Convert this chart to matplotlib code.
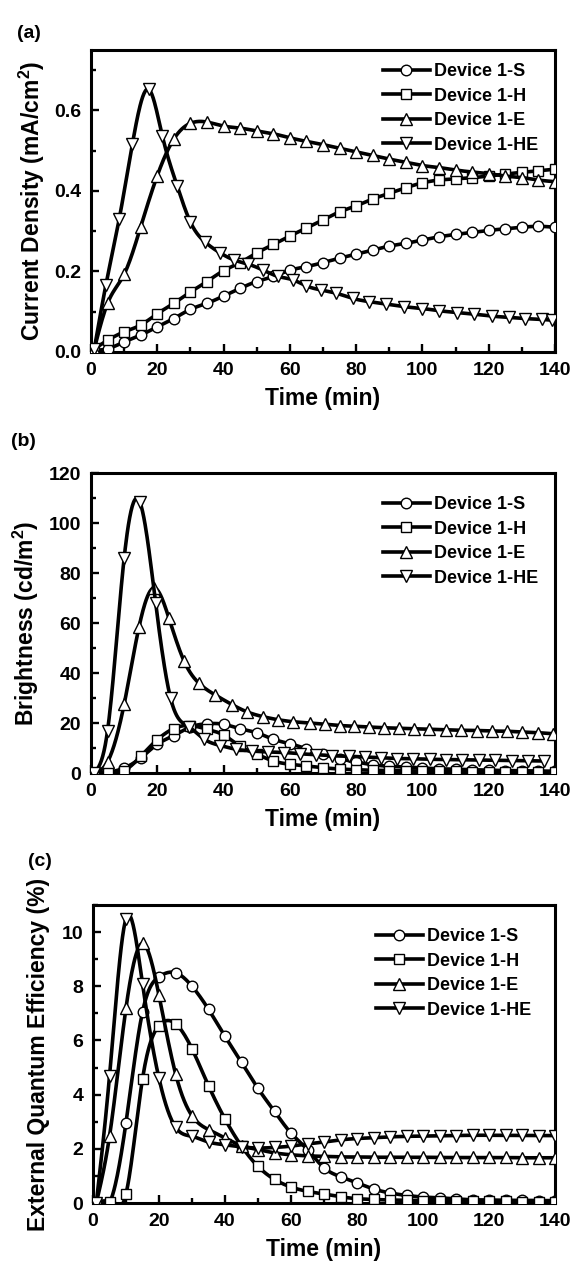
import numpy as np
import matplotlib
matplotlib.use("Agg")
import matplotlib.pyplot as plt
from matplotlib.lines import Line2D
from matplotlib.ticker import MultipleLocator, FormatStrFormatter

# --- FONTS ---
plt.rcParams['font.family'] = ['Liberation Sans', 'DejaVu Sans']
plt.rcParams['font.weight'] = 'bold'
plt.rcParams['mathtext.fontset'] = 'custom'
plt.rcParams['mathtext.rm'] = 'Liberation Sans:bold'
plt.rcParams['mathtext.bf'] = 'Liberation Sans:bold'
plt.rcParams['mathtext.default'] = 'bf'

# --- DATA ---
labels = ["Device 1-S", "Device 1-H", "Device 1-E", "Device 1-HE"]

# (a) current density, mA/cm2
t_a = [1, 5, 10, 15, 20, 25, 30, 35, 40, 45, 50, 55, 60, 65, 70, 75, 80, 85, 90,
       95, 100, 105, 110, 115, 120, 125, 130, 135, 140]
j_S = [0.004, 0.008, 0.025, 0.042, 0.0625, 0.083, 0.106, 0.121, 0.139, 0.158, 0.175,
       0.1875, 0.203, 0.212, 0.222, 0.233, 0.243, 0.253, 0.263, 0.27, 0.278, 0.286,
       0.292, 0.297, 0.302, 0.306, 0.31, 0.312, 0.31]
j_H = [0.008, 0.029, 0.05, 0.067, 0.095, 0.121, 0.149, 0.175, 0.202, 0.222, 0.246,
       0.267, 0.288, 0.308, 0.328, 0.348, 0.363, 0.38, 0.394, 0.408, 0.42, 0.427,
       0.43, 0.433, 0.437, 0.442, 0.446, 0.45, 0.454]
j_E = [0.008, 0.121, 0.193, 0.311, 0.438, 0.529, 0.568, 0.571, 0.561, 0.556, 0.549,
       0.542, 0.532, 0.523, 0.515, 0.506, 0.497, 0.488, 0.479, 0.471, 0.463, 0.458,
       0.452, 0.447, 0.443, 0.437, 0.433, 0.427, 0.423]
t_a_HE = [1, 4.5, 8.5, 12.5, 17.5, 21.5, 26, 30, 34.5, 39, 43, 47.5, 52, 56.5, 61, 65,
          69.5, 74, 79, 84, 89, 94.5, 100, 105, 110.5, 115.5, 121, 126, 131, 136, 139]
j_HE = [0.008, 0.167, 0.33, 0.517, 0.652, 0.5375, 0.4125, 0.3225, 0.2725, 0.246, 0.229,
        0.218, 0.203, 0.1875, 0.179, 0.164, 0.154, 0.146, 0.133, 0.125, 0.119, 0.1125,
        0.108, 0.1025, 0.098, 0.094, 0.089, 0.086, 0.083, 0.081, 0.079]

# (b) brightness, cd/m2
t_b = [1, 5, 10, 15, 20, 25, 30, 35, 40, 45, 50, 55, 60, 65, 70, 75, 80, 85, 90,
       95, 100, 105, 110, 115, 120, 125, 130, 135, 140]
b_S = [0, 0.3, 2.0, 6.0, 11.5, 15.0, 18.4, 19.7, 19.5, 17.7, 16.1, 13.5, 11.7, 9.7,
       7.5, 5.7, 4.4, 3.3, 2.7, 2.4, 2.0, 1.7, 1.5, 1.3, 1.1, 1.0, 0.9, 0.8, 0.7]
b_H = [0, 0.3, 1.0, 6.7, 13.3, 17.8, 19.0, 17.5, 15.2, 10.7, 7.5, 4.8, 3.5, 2.8,
       2.1, 1.6, 1.3, 1.1, 1.0, 0.9, 0.8, 0.7, 0.7, 0.6, 0.6, 0.5, 0.5, 0.5, 0.5]
t_b_E = [1, 5, 10, 14.5, 19, 23.5, 28, 32.5, 37.5, 42.5, 47, 52, 56.5, 61, 66, 70.5,
         75, 79.5, 84, 88.5, 93, 97.5, 102, 107, 111.5, 116.5, 121, 125.5, 130, 135, 139.5]
b_E = [0, 4.5, 27.5, 58.5, 74, 62, 45, 36, 31.2, 27.4, 24.5, 22.5, 21.3, 20.5, 20,
       19.5, 19, 18.7, 18.4, 18.1, 17.9, 17.7, 17.5, 17.3, 17.1, 17.0, 16.8, 16.7,
       16.4, 16.1, 15.7]
t_b_HE = [1, 5, 10, 14.7, 19.5, 24, 29.5, 34.2, 39, 43.8, 48.6, 53.5, 58.3, 63.2, 68,
          72.8, 77.7, 82.6, 87.5, 92.4, 97.3, 102.2, 107.1, 112, 117, 122, 127, 131.8, 136.6]
b_HE = [0, 17, 86, 108.5, 68, 30, 18.5, 13.5, 11, 9.5, 8.8, 8.4, 8.2, 7.7, 7.3, 6.9,
        6.7, 6.4, 6.1, 5.8, 5.7, 5.5, 5.4, 5.3, 5.2, 5.1, 5.0, 4.9, 4.8]

# (c) external quantum efficiency, %
t_c = [1, 5, 10, 15, 20, 25, 30, 35, 40, 45, 50, 55, 60, 65, 70, 75, 80, 85, 90,
       95, 100, 105, 110, 115, 120, 125, 130, 135, 140]
q_S = [0, 0.0, 2.97, 7.05, 8.35, 8.5, 8.0, 7.15, 6.15, 5.2, 4.23, 3.38, 2.58, 1.97,
       1.3, 0.97, 0.74, 0.52, 0.37, 0.28, 0.22, 0.19, 0.15, 0.12, 0.11, 0.1, 0.1,
       0.09, 0.09]
q_H = [0, 0.02, 0.34, 4.58, 6.55, 6.62, 5.69, 4.33, 3.1, 2.1, 1.35, 0.87, 0.59, 0.43,
       0.33, 0.23, 0.16, 0.13, 0.11, 0.1, 0.09, 0.08, 0.07, 0.07, 0.06, 0.06, 0.05,
       0.05, 0.05]
q_E = [0, 2.46, 7.2, 9.58, 7.66, 4.78, 3.22, 2.71, 2.4, 2.12, 1.97, 1.85, 1.78, 1.74,
       1.72, 1.7, 1.7, 1.69, 1.69, 1.69, 1.69, 1.68, 1.68, 1.68, 1.68, 1.68, 1.67,
       1.67, 1.67]
q_HE = [0, 4.68, 10.5, 8.1, 4.6, 2.8, 2.46, 2.25, 2.15, 2.07, 2.03, 2.05, 2.1, 2.18,
        2.25, 2.33, 2.38, 2.41, 2.44, 2.46, 2.47, 2.48, 2.49, 2.5, 2.5, 2.5, 2.5,
        2.49, 2.49]

markers = ['o', 's', '^', 'v']
msizes = [7.6, 6.8, 8.8, 8.8]


def spline(x, y, n=700):
    # natural cubic spline, used only to draw the smooth connecting line
    x = np.asarray(x, float)
    y = np.asarray(y, float)
    h = np.diff(x)
    m = len(x)
    A = np.zeros((m, m))
    r = np.zeros(m)
    A[0, 0] = A[-1, -1] = 1
    for i in range(1, m - 1):
        A[i, i - 1] = h[i - 1]
        A[i, i] = 2 * (h[i - 1] + h[i])
        A[i, i + 1] = h[i]
        r[i] = 3 * ((y[i + 1] - y[i]) / h[i] - (y[i] - y[i - 1]) / h[i - 1])
    c = np.linalg.solve(A, r)
    b = (y[1:] - y[:-1]) / h - h * (2 * c[:-1] + c[1:]) / 3
    d = (c[1:] - c[:-1]) / (3 * h)
    xs = np.linspace(x[0], x[-1], n)
    idx = np.clip(np.searchsorted(x, xs) - 1, 0, m - 2)
    dx = xs - x[idx]
    return xs, y[idx] + b[idx] * dx + c[idx] * dx ** 2 + d[idx] * dx ** 3


def draw_panel(ax, series, ylim, ymaj, ymin, ylabel, ylab_x, leg_xy):
    for k, (t, v) in enumerate(series):
        xs, ys = spline(t, v)
        ax.plot(xs, ys, color='black', lw=2.6, zorder=2 + 2 * k)
        ax.plot(t, v, ls='none', marker=markers[k], ms=msizes[k], mfc='white',
                mec='black', mew=1.0, zorder=3 + 2 * k)
    ax.set_xlim(0, 140)
    ax.set_ylim(*ylim)
    ax.xaxis.set_major_locator(MultipleLocator(20))
    ax.xaxis.set_minor_locator(MultipleLocator(10))
    ax.yaxis.set_major_locator(MultipleLocator(ymaj))
    ax.yaxis.set_minor_locator(MultipleLocator(ymin))
    ax.tick_params(which='both', direction='in', width=1.7, labelsize=14,
                   top=False, right=False)
    ax.tick_params(which='major', length=6, pad=7)
    ax.tick_params(which='minor', length=3.5)
    for s in ax.spines.values():
        s.set_linewidth(2.2)
    for lab in ax.get_xticklabels() + ax.get_yticklabels():
        lab.set_fontweight('bold')
    ax.set_xlabel("Time (min)", fontsize=16.5, fontweight='bold', va='center')
    ax.xaxis.set_label_coords(0.5, -0.155)
    ax.set_ylabel(ylabel, fontsize=16.5, fontweight='bold', va='center')
    ax.yaxis.set_label_coords(ylab_x, 0.5)
    handles = [Line2D([], [], color='black', lw=2.6, marker=markers[k], ms=msizes[k],
                      mfc='white', mec='black', mew=1.0) for k in range(4)]
    ax.legend(handles, labels, loc='upper left', bbox_to_anchor=leg_xy,
              bbox_transform=fig.transFigure, frameon=False, borderpad=0,
              borderaxespad=0, handlelength=2.6, handletextpad=0.2,
              labelspacing=0.42, prop={'size': 13, 'weight': 'bold'})


W, H = 577, 1265
fig = plt.figure(figsize=(W / 100, H / 100), dpi=100)

ax_a = fig.add_axes([91 / W, 1 - 352 / H, 464 / W, 302 / H])
ax_b = fig.add_axes([91 / W, 1 - 773 / H, 464 / W, 300 / H])
ax_c = fig.add_axes([93 / W, 1 - 1203 / H, 462 / W, 298 / H])

draw_panel(ax_a, [(t_a, j_S), (t_a, j_H), (t_a, j_E), (t_a_HE, j_HE)],
           (0, 0.75), 0.2, 0.1, "Current Density (mA/cm$^2$)", -0.127,
           (383 / W, 1 - 63 / H))
draw_panel(ax_b, [(t_b, b_S), (t_b, b_H), (t_b_E, b_E), (t_b_HE, b_HE)],
           (0, 120), 20, 10, "Brightness (cd/m$^2$)", -0.14,
           (383 / W, 1 - 496 / H))
draw_panel(ax_c, [(t_c, q_S), (t_c, q_H), (t_c, q_E), (t_c, q_HE)],
           (0, 11), 2, 1, "External Quantum Efficiency (%)", -0.118,
           (376 / W, 1 - 928 / H))
ax_a.yaxis.set_major_formatter(FormatStrFormatter('%.1f'))

fig.text(29 / W, 1 - 34 / H, "(a)", fontsize=14, fontweight='bold', ha='center', va='center')
fig.text(23 / W, 1 - 441 / H, "(b)", fontsize=14, fontweight='bold', ha='center', va='center')
fig.text(40 / W, 1 - 862 / H, "(c)", fontsize=14, fontweight='bold', ha='center', va='center')

fig.savefig("out.png", dpi=100)
